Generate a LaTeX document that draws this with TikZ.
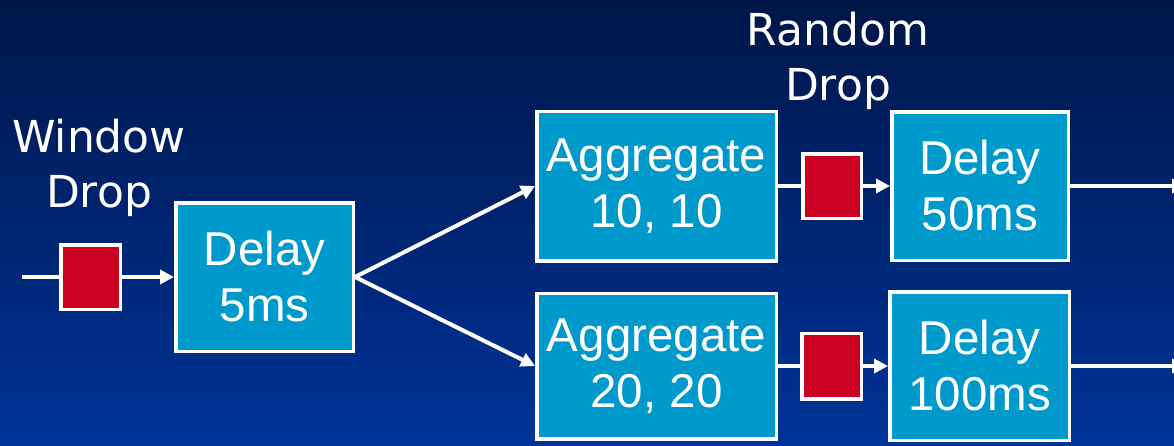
\documentclass[tikz,border=0pt]{standalone}
\usepackage{fontspec}
\setmainfont{Liberation Sans}
\newfontfamily\handfont{DejaVu Sans}
\usetikzlibrary{arrows.meta}
\definecolor{bgtop}{RGB}{0,22,72}
\definecolor{bgbot}{RGB}{0,51,153}
\definecolor{boxfill}{RGB}{0,153,204}
\definecolor{dropred}{RGB}{204,0,34}
\begin{document}
\begin{tikzpicture}[x=1pt,y=-1pt,
  procbox/.style={draw=white,line width=3.5pt,fill=boxfill,text=white,inner sep=0pt,
    align=center,font=\fontsize{47.5}{56}\selectfont},
  dropbox/.style={draw=white,line width=3.5pt,fill=dropred,inner sep=0pt},
  conn/.style={draw=white,line width=4pt},
  arr/.style={conn,-{Triangle[length=14pt,width=14pt]}},
  lbl/.style={text=white,align=center,inner sep=0pt,font=\handfont\fontsize{44}{55}\selectfont}]
\shade[top color=bgtop,bottom color=bgbot] (0,0) rectangle (1174,445);
\useasboundingbox (0,0) rectangle (1174,445);
\clip (0,0) rectangle (1174,445);
% labels
\node[lbl] (wlbl) at (99,168) {Window\\Drop};
\node[lbl] (rlbl) at (838,61) {Random\\Drop};
% boxes
\node[procbox,minimum width=177.5pt,minimum height=148.5pt] (d5) at (264.5,277) {Delay\\5ms};
\node[procbox,minimum width=239.5pt,minimum height=149.5pt] (a1) at (656.5,186) {Aggregate\\10, 10};
\node[procbox,minimum width=176.5pt,minimum height=148.5pt] (d50) at (980,186) {Delay\\50ms};
\node[procbox,minimum width=239.5pt,minimum height=145.5pt] (a2) at (656.5,366) {Aggregate\\20, 20};
\node[procbox,minimum width=179.5pt,minimum height=148.5pt] (d100) at (979.5,366) {Delay\\100ms};
% drop squares
\node[dropbox,minimum width=59.5pt,minimum height=64.5pt] (w) at (90.5,277) {};
\node[dropbox,minimum width=58.5pt,minimum height=64.5pt] (r1) at (832,186) {};
\node[dropbox,minimum width=59.5pt,minimum height=65.5pt] (r2) at (831.5,366) {};
% coordinates
\coordinate (in) at (22,277);
\coordinate (out1) at (1186,186);
\coordinate (out2) at (1186,366);
% connectors
\draw[conn] (in) -- (w.west);
\draw[arr] (w.east) -- (d5.west);
\draw[arr] (d5.east) -- (a1.west);
\draw[arr] (d5.east) -- (a2.west);
\draw[conn] (a1.east) -- (r1.west);
\draw[arr] (r1.east) -- (d50.west);
\draw[conn] (a2.east) -- (r2.west);
\draw[arr] (r2.east) -- (d100.west);
\draw[arr] (d50.east) -- (out1);
\draw[arr] (d100.east) -- (out2);
\end{tikzpicture}
\end{document}
